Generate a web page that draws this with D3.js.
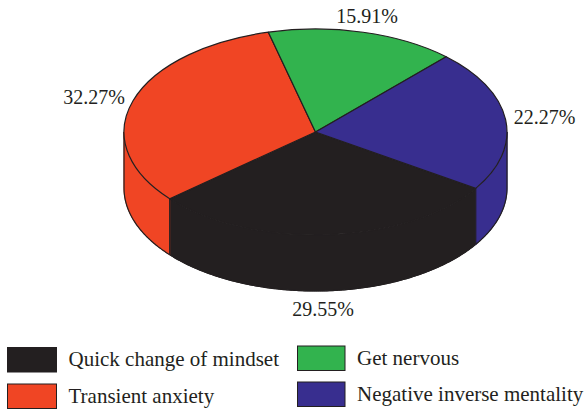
<!DOCTYPE html>
<html>
<head>
<meta charset="utf-8">
<script src="https://cdn.jsdelivr.net/npm/d3@7"></script>
<style>
  html, body { margin: 0; padding: 0; background: #fff; }
  svg { display: block; }
  text { font-family: "Liberation Serif", serif; fill: #231f20; }
</style>
</head>
<body>
<svg id="chart" width="585" height="411"></svg>
<script>
// Shares of each emotional response, in percent
const categories = ["Quick change of mindset", "Transient anxiety", "Get nervous", "Negative inverse mentality"];
const shares = [29.55, 32.27, 15.91, 22.27];
const colors = ["#231f20", "#f04524", "#32b34e", "#382e8f"];

// Pie geometry: a tilted disc with a visible rim
const cx = 315.5, cy = 132, rx = 191.5, ry = 103, depth = 56;
const firstAngle = 123.2 * Math.PI / 180;
const outline = "#231f20";

const svg = d3.select("#chart");
const arcs = d3.pie().sort(null).startAngle(firstAngle).endAngle(firstAngle + 2 * Math.PI)(shares);

// Projection of a pie angle (clockwise from the top) onto the tilted disc
const px = a => cx + rx * Math.sin(a);
const py = a => cy - ry * Math.cos(a);

// Rim: only the stretch of each slice that faces the viewer (between 90 and 270 degrees)
const frontStart = Math.PI / 2, frontEnd = 3 * Math.PI / 2;
const rim = d3.area()
  .x(a => px(a))
  .y0(a => py(a))
  .y1(a => py(a) + depth);
const rimEdge = d3.line().x(a => px(a)).y(a => py(a) + depth);

arcs.forEach((d, i) => {
  // Slices past a full turn are also tested one turn back
  [0, 2 * Math.PI].forEach(turn => {
    const from = Math.max(d.startAngle - turn, frontStart);
    const to = Math.min(d.endAngle - turn, frontEnd);
    if (to <= from) return;
    const steps = d3.range(from, to, 0.01).concat([to]);
    svg.append("path").attr("d", rim(steps))
      .attr("fill", colors[i]).attr("stroke", colors[i]).attr("stroke-width", 1);
    svg.append("path").attr("d", rimEdge(steps))
      .attr("fill", "none").attr("stroke", outline).attr("stroke-width", 1.2);
    // Vertical seams at the ends of the rim
    [from, to].forEach(a => {
      svg.append("line")
        .attr("x1", px(a)).attr("x2", px(a))
        .attr("y1", py(a)).attr("y2", py(a) + depth)
        .attr("stroke", outline).attr("stroke-width", 1.2);
    });
  });
});

// Top face: circular arcs squashed into an ellipse
const arc = d3.arc().innerRadius(0).outerRadius(rx);
svg.append("g")
  .attr("transform", `translate(${cx},${cy}) scale(1,${ry / rx})`)
  .selectAll("path")
  .data(arcs)
  .join("path")
  .attr("d", arc)
  .attr("fill", (d, i) => colors[i])
  .attr("stroke", outline)
  .attr("stroke-width", 1.2)
  .attr("stroke-linejoin", "round")
  .attr("vector-effect", "non-scaling-stroke");

// Percentage labels, offset from the rim at each slice's mid-angle
const labelOffsets = [[-4.5, 25], [-39, 3], [4, -9], [39, 4]];
const rimDrop = [depth, 0, 0, 0];
svg.append("g").selectAll("text")
  .data(arcs)
  .join("text")
  .attr("x", (d, i) => px((d.startAngle + d.endAngle) / 2) + labelOffsets[i][0])
  .attr("y", (d, i) => py((d.startAngle + d.endAngle) / 2) + rimDrop[i] + labelOffsets[i][1])
  .attr("text-anchor", "middle")
  .attr("font-size", 20)
  .text((d, i) => shares[i].toFixed(2) + "%");

// Legend: two columns of two swatches
const legendCols = [7.5, 297.5];
const legendRows = [[347.5, 384], [346, 382]];
const swatchWidths = [49, 47.5];
const legend = svg.append("g").selectAll("g")
  .data(categories)
  .join("g")
  .attr("transform", (d, i) => {
    const col = Math.floor(i / 2), row = i % 2;
    return `translate(${legendCols[col]},${legendRows[col][row]})`;
  });
legend.append("rect")
  .attr("width", (d, i) => swatchWidths[Math.floor(i / 2)]).attr("height", 24.5)
  .attr("fill", (d, i) => colors[i])
  .attr("stroke", outline).attr("stroke-width", 1);
legend.append("text")
  .attr("x", (d, i) => i < 2 ? 61 : 59.5).attr("y", 18.5)
  .attr("font-size", 21)
  .text(d => d);
</script>
</body>
</html>
